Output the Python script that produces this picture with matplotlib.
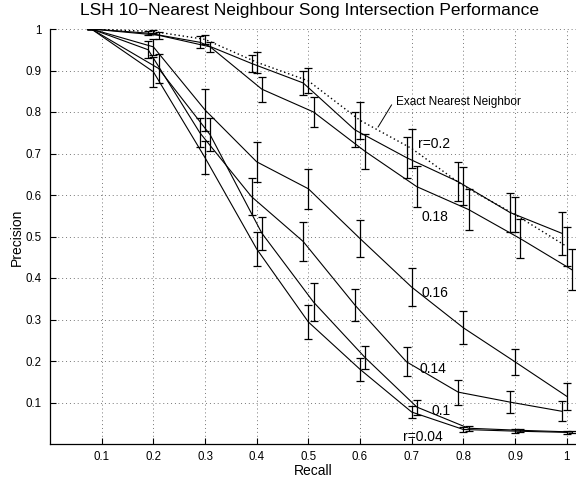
import matplotlib
matplotlib.use("Agg")
import matplotlib.pyplot as plt

plt.rcParams['font.family'] = ['Liberation Sans', 'DejaVu Sans']

# recall / precision / error half-height for each curve
recall_exact = [0.08, 0.2, 0.3, 0.4, 0.5, 0.6, 0.7, 0.8, 0.9, 1.0]
prec_exact = [1.0, 0.994, 0.975, 0.92, 0.875, 0.78, 0.712, 0.622, 0.553, 0.476]
err_exact = [0, 0.004, 0.01, 0.025, 0.03, 0.045, 0.048, 0.045, 0.041, 0.048]

recall_r20 = [0.08, 0.19, 0.29, 0.39, 0.49, 0.59, 0.69, 0.79, 0.89, 0.99]
prec_r20 = [1.0, 0.99, 0.968, 0.917, 0.87, 0.757, 0.69, 0.632, 0.558, 0.508]
err_r20 = [0, 0.005, 0.014, 0.02, 0.03, 0.042, 0.05, 0.047, 0.048, 0.052]

recall_r18 = [0.08, 0.21, 0.31, 0.41, 0.51, 0.61, 0.71, 0.81, 0.91, 1.01]
prec_r18 = [1.0, 0.985, 0.957, 0.855, 0.80, 0.705, 0.62, 0.565, 0.495, 0.42]
err_r18 = [0, 0.008, 0.012, 0.03, 0.036, 0.042, 0.05, 0.05, 0.048, 0.05]

recall_r16 = [0.08, 0.2, 0.3, 0.4, 0.5, 0.6, 0.7, 0.8, 0.9, 1.0]
prec_r16 = [1.0, 0.957, 0.805, 0.68, 0.615, 0.495, 0.378, 0.28, 0.198, 0.115]
err_r16 = [0, 0.02, 0.05, 0.048, 0.048, 0.044, 0.046, 0.04, 0.032, 0.032]

recall_r14 = [0.08, 0.19, 0.29, 0.39, 0.49, 0.59, 0.69, 0.79, 0.89, 0.99]
prec_r14 = [1.0, 0.95, 0.75, 0.596, 0.488, 0.335, 0.198, 0.125, 0.101, 0.079]
err_r14 = [0, 0.02, 0.035, 0.045, 0.048, 0.039, 0.035, 0.03, 0.026, 0.024]

recall_r10 = [0.08, 0.21, 0.31, 0.41, 0.51, 0.61, 0.71, 0.81, 0.91, 1.01]
prec_r10 = [1.0, 0.905, 0.745, 0.508, 0.342, 0.208, 0.089, 0.038, 0.033, 0.029]
err_r10 = [0, 0.035, 0.04, 0.04, 0.046, 0.028, 0.018, 0.006, 0.003, 0.003]

recall_r04 = [0.08, 0.2, 0.3, 0.4, 0.5, 0.6, 0.7, 0.8, 0.9, 1.0]
prec_r04 = [1.0, 0.897, 0.69, 0.47, 0.294, 0.18, 0.077, 0.035, 0.031, 0.028]
err_r04 = [0, 0.036, 0.04, 0.042, 0.042, 0.028, 0.014, 0.005, 0.004, 0.003]

ticks = [0.1, 0.2, 0.3, 0.4, 0.5, 0.6, 0.7, 0.8, 0.9, 1.0]
tick_labels = ['0.1', '0.2', '0.3', '0.4', '0.5', '0.6', '0.7', '0.8', '0.9', '1']

fig = plt.figure(figsize=(5.76, 4.78), dpi=100)
ax = fig.add_axes([50 / 576, 34 / 478, 526 / 576, 415 / 478])

ax.errorbar(recall_exact, prec_exact, yerr=err_exact, color='k', lw=1.0,
            ls=(0, (1, 2)), elinewidth=0.9, capsize=3, capthick=0.9)
lsh = [(recall_r20, prec_r20, err_r20), (recall_r18, prec_r18, err_r18),
       (recall_r16, prec_r16, err_r16), (recall_r14, prec_r14, err_r14),
       (recall_r10, prec_r10, err_r10), (recall_r04, prec_r04, err_r04)]
for rx, py, ey in lsh:
    ax.errorbar(rx, py, yerr=ey, color='k', lw=0.8, elinewidth=0.9,
                capsize=3, capthick=0.9)

ax.set_xlim(0, 1.018)
ax.set_ylim(0, 1)
ax.set_xticks(ticks)
ax.set_xticklabels(tick_labels)
ax.set_yticks(ticks)
ax.set_yticklabels(tick_labels)
ax.tick_params(direction='in', length=4, width=0.8, labelsize=8.3, pad=6)
ax.tick_params(axis='x', pad=5)
ax.grid(True, ls=(0, (1, 3)), color='#777777', lw=0.7)
ax.spines['top'].set_visible(False)
ax.spines['right'].set_visible(False)
ax.spines['left'].set_linewidth(0.9)
ax.spines['bottom'].set_linewidth(0.9)

# curve labels
ax.text(0.67, 0.825, 'Exact Nearest Neighbor', fontsize=8.5, va='center')
ax.plot([0.661, 0.635], [0.817, 0.764], color='k', lw=0.7)
ax.text(0.713, 0.722, 'r=0.2', fontsize=10, va='center')
ax.text(0.719, 0.548, '0.18', fontsize=10, va='center')
ax.text(0.719, 0.363, '0.16', fontsize=10, va='center')
ax.text(0.716, 0.18, '0.14', fontsize=10, va='center')
ax.text(0.739, 0.0795, '0.1', fontsize=10, va='center')
ax.text(0.683, 0.0176, 'r=0.04', fontsize=10, va='center')

fig.text(309.5 / 576, 1 - 10 / 478, 'LSH 10\u2212Nearest Neighbour Song Intersection Performance',
         ha='center', va='center', fontsize=12.5)
fig.text(313 / 576, 1 - 471 / 478, 'Recall', ha='center', va='center', fontsize=10)
fig.text(17 / 576, 1 - 237 / 478, 'Precision', ha='center', va='center',
         fontsize=10, rotation=90)

fig.savefig('out.png', dpi=100)
